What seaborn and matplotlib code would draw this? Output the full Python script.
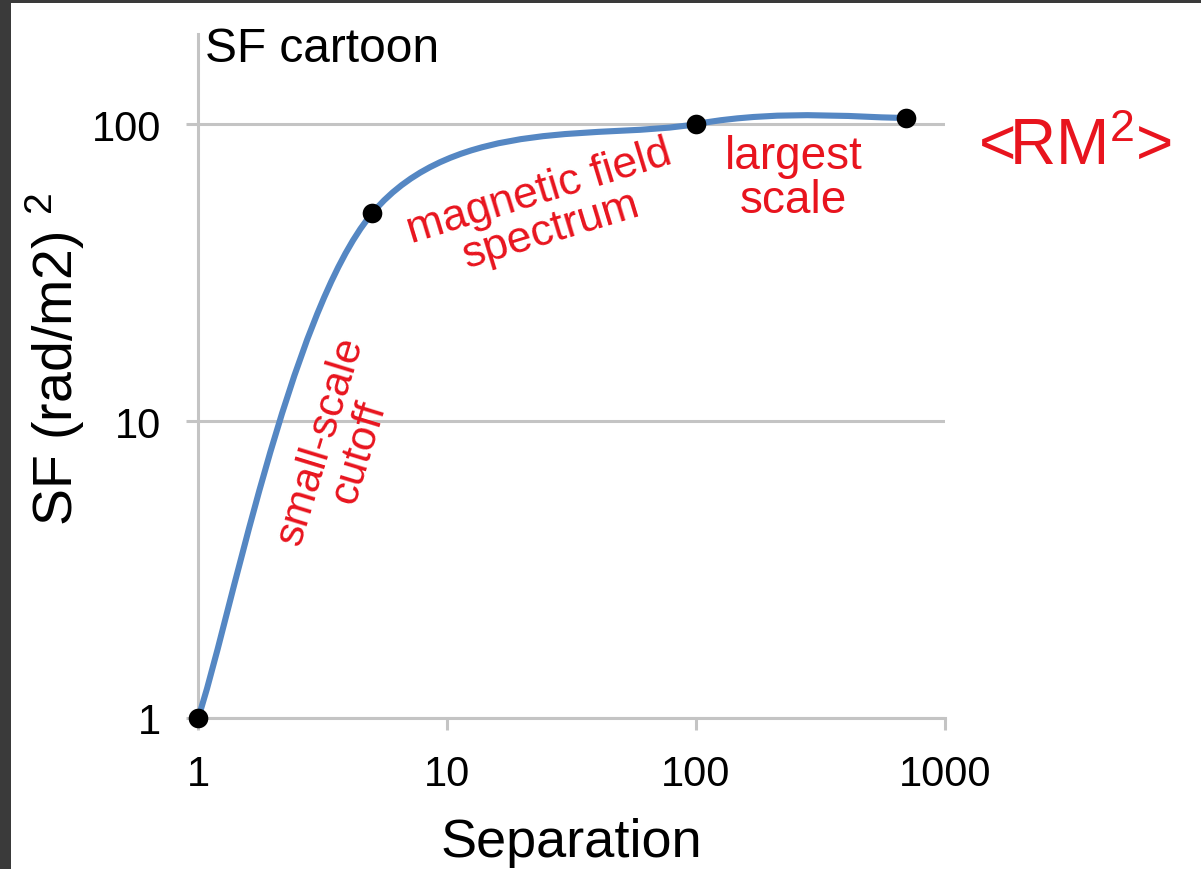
import numpy as np
import matplotlib
matplotlib.use("Agg")
import matplotlib.pyplot as plt
from matplotlib.path import Path
from matplotlib.patches import PathPatch, Rectangle
import seaborn as sns
import pandas as pd

# structure-function cartoon: sample separations and SF values
separation = [1, 5, 100, 700]
sf_values = [1, 50, 100, 105]
x_ticks = [1, 10, 100, 1000]
x_tick_labels = ["1", "10", "100", "1000"]
y_ticks = [1, 10, 100]
y_tick_labels = ["1", "10", "100"]

sns.set_theme(style="white")
plt.rcParams["font.family"] = ["Liberation Sans", "DejaVu Sans"]
plt.rcParams["mathtext.fontset"] = "custom"
plt.rcParams["mathtext.rm"] = "Liberation Sans"
plt.rcParams["mathtext.it"] = "Liberation Sans"

LINE_BLUE = "#5587c3"
GRID_GRAY = "#c4c4c4"
RED = "#e8141e"

fig = plt.figure(figsize=(12.01, 8.70), dpi=100)
fig.patch.set_facecolor("white")
ax = fig.add_axes([198 / 1201, 1 - 719 / 870, (945 - 198) / 1201, (719 - 35) / 870])

ax.set_xscale("log")
ax.set_yscale("log")
ax.set_xlim(1, 1000)
ax.set_ylim(1, 201)

# smoothed connecting curve: cubic Bezier segments built in log space
lx = np.log10(separation)
ly = np.log10(sf_values)
pts = np.column_stack([lx, ly])
n = len(pts)
verts = [pts[0]]
codes = [Path.MOVETO]
for i in range(n - 1):
    prev_p = pts[i - 1] if i > 0 else pts[i]
    next_p = pts[i + 2] if i + 2 < n else pts[i + 1]
    c1 = pts[i] + (pts[i + 1] - prev_p) / 6.0
    c2 = pts[i + 1] - (next_p - pts[i]) / 6.0
    verts += [c1, c2, pts[i + 1]]
    codes += [Path.CURVE4] * 3
verts = 10 ** np.array(verts)
curve = PathPatch(Path(verts, codes), facecolor="none", edgecolor=LINE_BLUE,
                  linewidth=4.4, capstyle="round", zorder=3)
ax.add_patch(curve)

df = pd.DataFrame({"Separation": separation, "SF": sf_values})
sns.scatterplot(data=df, x="Separation", y="SF", ax=ax, s=200, color="black",
                edgecolor="black", linewidth=0, zorder=4, clip_on=False)

# axes styling
for side in ("top", "right"):
    ax.spines[side].set_visible(False)
for side in ("left", "bottom"):
    ax.spines[side].set_color(GRID_GRAY)
    ax.spines[side].set_linewidth(2.2)
ax.yaxis.grid(True, color=GRID_GRAY, linewidth=2.2)
ax.xaxis.grid(False)
ax.set_axisbelow(True)

ax.set_xticks(x_ticks)
ax.set_xticklabels(x_tick_labels)
ax.set_yticks(y_ticks)
ax.set_yticklabels(y_tick_labels)
ax.minorticks_off()
ax.tick_params(axis="x", which="major", direction="out", length=8.6, width=2.2,
               color=GRID_GRAY, labelsize=30, pad=17, labelcolor="black", bottom=True)
ax.tick_params(axis="y", which="major", direction="out", length=8.6, width=2.2,
               color=GRID_GRAY, labelsize=30, pad=18, labelcolor="black", left=True)

ax.set_xlabel("Separation", fontsize=39, labelpad=17, color="black")
ax.set_ylabel("SF (rad/m2) $^{2}$", fontsize=40, color="black")
ax.yaxis.set_label_coords(-(198 - 87) / 747, (719 - 359) / 684)

fig.text(205 / 1201, 1 - 62 / 870, "SF cartoon", fontsize=34.5, color="black",
         ha="left", va="baseline")

# annotations
ax.text(0.465, 0.742, "magnetic field\nspectrum", transform=ax.transAxes,
        fontsize=32, color=RED, rotation=17, ha="center", va="center",
        multialignment="center", rotation_mode="anchor", linespacing=1.0)
ax.text(0.797, 0.79, "largest\nscale", transform=ax.transAxes,
        fontsize=33, color=RED, ha="center", va="center",
        multialignment="center", linespacing=1.0)
ax.text(0.19, 0.398, "small-scale\ncutoff", transform=ax.transAxes,
        fontsize=31, color=RED, rotation=73, ha="center", va="center",
        multialignment="center", rotation_mode="anchor", linespacing=1.0)
fig.text(1075 / 1201, 1 - 148 / 870, "<RM$^{2}$>", fontsize=46, color=RED,
         ha="center", va="center")

# dark frame strips along the left and top edges
fig.patches.append(Rectangle((0, 0), 11 / 1201, 1, transform=fig.transFigure,
                             facecolor="#3a3a3a", edgecolor="none", zorder=-1))
fig.patches.append(Rectangle((0, 1 - 4 / 870), 1, 4 / 870, transform=fig.transFigure,
                             facecolor="#3a3a3a", edgecolor="none", zorder=-1))

fig.savefig("out.png", dpi=100, facecolor=fig.get_facecolor())
